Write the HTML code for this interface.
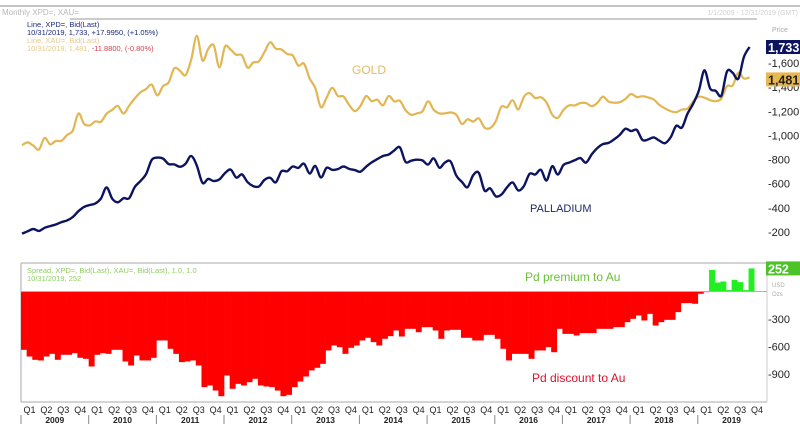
<!DOCTYPE html>
<html><head><meta charset="utf-8"><style>
html,body{margin:0;padding:0;background:#fff;}
body{width:800px;height:430px;overflow:hidden;font-family:"Liberation Sans",sans-serif;}
svg text{font-family:"Liberation Sans",sans-serif;}
</style></head><body>
<svg id="chart" width="800" height="430" viewBox="0 0 800 430">
<g>
<line x1="0" y1="6" x2="800" y2="6" stroke="#888" stroke-width="1"/>
<text x="2" y="15" font-size="8" fill="#b8b8b8">Monthly XPD=, XAU=</text>
<line x1="70" y1="19" x2="757" y2="19" stroke="#999" stroke-width="1"/>
<text x="798" y="15" font-size="7" fill="#d0d0d0" text-anchor="end">1/1/2009 - 12/31/2019 (GMT)</text>
</g>
<g font-size="7.5">
<text x="27" y="27" fill="#1b2a7a">Line, XPD=, Bid(Last)</text>
<text x="27" y="35" fill="#1b2a7a">10/31/2019, 1,733, +17.9950, (+1.05%)</text>
<text x="27" y="43" fill="#e8c98a">Line, XAU=, Bid(Last)</text>
<text x="27" y="51" fill="#e8c98a">10/31/2019, 1,481, <tspan fill="#d04050">-11.8800, (-0.80%)</tspan></text>
<text x="27" y="273" fill="#8fd060">Spread, XPD=, Bid(Last), XAU=, Bid(Last),  1.0, 1.0</text>
<text x="27" y="281" fill="#8fd060">10/31/2019, 252</text>
</g>
<g id="frame">
<line x1="21" y1="263" x2="767" y2="263" stroke="#aaa"/>
<line x1="21" y1="263" x2="21" y2="402" stroke="#aaa"/>
<line x1="21" y1="402" x2="767" y2="402" stroke="#aaa"/>
<line x1="767" y1="263" x2="767" y2="402" stroke="#ccc"/>
</g>
<g id="bars"></g>
<g id="lines"></g>
<g id="axes"></g>
<text x="352" y="74" font-size="12" fill="#e0bd62">GOLD</text>
<text x="530" y="212" font-size="11" fill="#1b2a6a">PALLADIUM</text>
<text x="525" y="281" font-size="12" fill="#6cbf3a">Pd premium to Au</text>
<text x="532" y="382" font-size="12" fill="#e0102a">Pd discount to Au</text>
</svg>
<script>
const years=["2009","2010","2011","2012","2013","2014","2015","2016","2017","2018","2019"];
const quarters=["Q1","Q2","Q3","Q4"];
const priceTicks=[200,400,600,800,1000,1200,1400,1600];
const spreadTicks=[-300,-600,-900];
const gold=[919,942,916,883,979,926,955,955,1004,1040,1182,1096,
1083,1116,1113,1180,1212,1244,1181,1247,1307,1357,1385,1421,
1332,1409,1439,1556,1536,1500,1628,1826,1620,1715,1746,1564,
1737,1710,1669,1664,1561,1604,1614,1692,1772,1719,1713,1675,
1663,1578,1595,1472,1393,1234,1313,1395,1327,1323,1253,1202,
1244,1326,1284,1296,1250,1327,1282,1287,1210,1171,1183,1199,
1283,1212,1183,1183,1190,1172,1095,1134,1115,1142,1065,1061,
1118,1238,1233,1292,1215,1321,1351,1309,1316,1273,1173,1146,
1211,1249,1249,1268,1268,1242,1269,1322,1280,1271,1275,1303,
1343,1318,1325,1315,1298,1253,1224,1201,1192,1215,1222,1282,
1321,1313,1292,1284,1305,1409,1413,1520,1472,1481];
const palladium=[186,206,225,209,235,249,262,282,296,324,372,408,
424,436,478,569,476,446,480,480,573,622,680,797,
816,808,763,760,740,766,830,750,607,640,622,636,
688,717,651,677,613,580,577,632,649,612,703,703,
743,731,766,684,748,652,732,715,721,743,723,713,
700,740,777,804,830,841,875,901,781,791,799,793,
759,810,733,776,784,667,615,571,671,690,544,562,
496,510,570,610,544,582,682,676,715,627,745,676,
755,775,794,812,775,842,895,928,938,968,1005,1056,
1036,1046,963,966,984,957,936,984,1080,1065,1180,1263,
1370,1540,1390,1370,1330,1530,1520,1470,1650,1733];
const spread=[-636,-709,-745,-752,-709,-680,-745,-690,-690,-673,-723,-734,
-818,-690,-673,-680,-636,-636,-763,-807,-698,-752,-752,-723,
-534,-534,-625,-680,-770,-763,-752,-807,-1043,-1025,-1080,-1142,
-916,-1061,-1007,-1025,-989,-952,-1025,-1036,-1043,-1080,-1142,-1127,
-1043,-982,-927,-861,-832,-789,-643,-589,-607,-680,-614,-589,
-534,-505,-552,-589,-516,-487,-425,-491,-407,-407,-444,-389,
-389,-425,-516,-425,-418,-418,-505,-505,-534,-534,-473,-473,
-516,-625,-752,-680,-680,-680,-734,-643,-643,-607,-662,-407,
-462,-462,-480,-454,-454,-454,-407,-407,-407,-389,-389,-334,
-298,-262,-316,-244,-371,-334,-309,-309,-225,-127,-127,-134,
-25,-7,236,98,109,15,127,102,15,252];

const NS="http://www.w3.org/2000/svg";
const X0=21, STEP=5.64;
function xMonth(i){return X0+i*STEP;}
function yPrice(v){return 232-(v-200)*0.1207;}
function ySpread(v){return 291.5-v*0.0917;}
function mk(tag,attrs,parent){const e=document.createElementNS(NS,tag);for(const k in attrs)e.setAttribute(k,attrs[k]);parent.appendChild(e);return e;}

// bars
const bars=document.getElementById('bars');
spread.forEach((v,i)=>{
  const x=xMonth(i), y0=ySpread(0), y1=ySpread(v);
  const r=mk('rect',{x:x.toFixed(2),y:Math.min(y0,y1).toFixed(2),width:(STEP+0.3).toFixed(2),height:Math.abs(y1-y0).toFixed(2),fill:v<0?'#ff0000':'#22ee22'},bars);
  
  
});
const zl=mk('line',{x1:X0,y1:ySpread(0),x2:767,y2:ySpread(0),stroke:'#c8b070','stroke-width':1},bars);



// lines
function smoothPath(vals){
  const p=vals.map((v,i)=>[xMonth(i)+1,yPrice(v)]);
  let d='M'+p[0][0].toFixed(1)+','+p[0][1].toFixed(1);
  for(let i=0;i<p.length-1;i++){
    const a=p[i-1]||p[i],b=p[i],c=p[i+1],e=p[i+2]||c;
    const c1=[b[0]+(c[0]-a[0])/6,b[1]+(c[1]-a[1])/6],c2=[c[0]-(e[0]-b[0])/6,c[1]-(e[1]-b[1])/6];
    d+='C'+c1[0].toFixed(1)+','+c1[1].toFixed(1)+' '+c2[0].toFixed(1)+','+c2[1].toFixed(1)+' '+c[0].toFixed(1)+','+c[1].toFixed(1);
  }
  return d;
}
const lines=document.getElementById('lines');
const gl=mk('path',{d:smoothPath(gold),fill:'none',stroke:'#e2b653','stroke-width':2.2,'stroke-linejoin':'round'},lines);


const pl=mk('path',{d:smoothPath(palladium),fill:'none',stroke:'#0c1460','stroke-width':2.4,'stroke-linejoin':'round'},lines);



// axes
const axes=document.getElementById('axes');
priceTicks.forEach(v=>{
  const t=mk('text',{x:768,y:(yPrice(v)+4).toFixed(1),'font-size':11,fill:'#222'},axes);
  t.textContent='-'+v.toLocaleString('en-US');
  
  
});
spreadTicks.forEach(v=>{
  const t=mk('text',{x:768,y:(ySpread(v)+4).toFixed(1),'font-size':11,fill:'#222'},axes);
  t.textContent='-'+String(v).replace('-','');
  t.textContent=String(v);
  
  
});
const u1=mk('text',{x:772,y:32,'font-size':7,fill:'#aaa'},axes);u1.textContent='Price';


const u2=mk('text',{x:772,y:287,'font-size':6,fill:'#aaa'},axes);u2.textContent='USD';


const u3=mk('text',{x:772,y:296,'font-size':6,fill:'#aaa'},axes);u3.textContent='Ozs';


function badge(v,y,bg,fg,name){
  const g=mk('g',{},axes);
  
  
  mk('rect',{x:766,y:(y-7).toFixed(1),width:34,height:14,fill:bg},g);
  const t=mk('text',{x:768,y:(y+5).toFixed(1),'font-size':12.5,'font-weight':'bold',fill:fg},g);
  t.textContent=v.toLocaleString('en-US');
}
badge(palladium[palladium.length-1],yPrice(palladium[palladium.length-1]),'#0c1460','#fff','palladium-last-badge');
badge(gold[gold.length-1],yPrice(gold[gold.length-1])+2,'#e8b74f','#222','gold-last-badge');
badge(spread[spread.length-1],ySpread(spread[spread.length-1]),'#4cc428','#fff','spread-last-badge');

// x axis
years.forEach((yr,yi)=>{
  quarters.forEach((q,qi)=>{
    const m=yi*12+qi*3;
    const t=mk('text',{x:(xMonth(m)+1.5*STEP).toFixed(1),y:413,'font-size':9,fill:'#222','text-anchor':'middle'},axes);
    t.textContent=q;
    
    
  });
  const ty=mk('text',{x:(xMonth(yi*12)+6*STEP).toFixed(1),y:423,'font-size':8.5,'font-weight':'bold',fill:'#222','text-anchor':'middle'},axes);
  ty.textContent=yr;
  
  
  const sep=mk('line',{x1:xMonth(yi*12).toFixed(1),y1:415,x2:xMonth(yi*12).toFixed(1),y2:424,stroke:'#888'},axes);
  
  
});
</script>
</body></html>
